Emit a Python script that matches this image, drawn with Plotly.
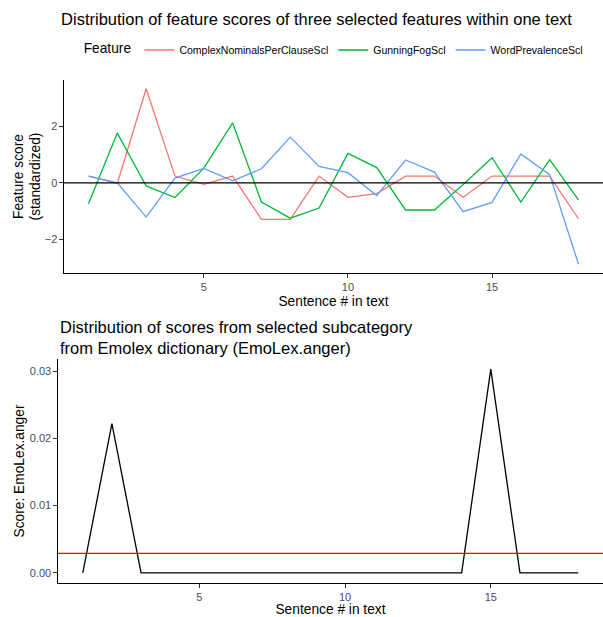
import plotly.graph_objects as go
import numpy as np

sentences = list(range(1, 19))

complex_nominals = [0.24, -0.02, 3.33, 0.24, -0.05, 0.24, -1.29, -1.29, 0.24, -0.51,
                    -0.38, 0.24, 0.24, -0.51, 0.24, 0.24, 0.24, -1.27]
gunning_fog = [-0.74, 1.76, -0.11, -0.52, 0.52, 2.12, -0.68, -1.25, -0.89, 1.04,
               0.54, -0.96, -0.96, -0.06, 0.89, -0.68, 0.82, -0.60]
word_prevalence = [0.24, 0.0, -1.21, 0.17, 0.51, 0.07, 0.50, 1.62, 0.58, 0.36,
                   -0.45, 0.81, 0.38, -1.02, -0.69, 1.02, 0.29, -2.88]

series_names = ["ComplexNominalsPerClauseScl", "GunningFogScl", "WordPrevalenceScl"]
series_values = [complex_nominals, gunning_fog, word_prevalence]
series_colors = ["#F8766D", "#00BA38", "#619CFF"]

emolex_anger = [0, 0.0222, 0, 0, 0, 0, 0, 0, 0, 0, 0, 0, 0, 0, 0.0303, 0, 0, 0]
anger_mean = float(np.mean(emolex_anger))

W, H = 603, 617
FONT = "Liberation Sans, Arial, sans-serif"

fig = go.Figure()
for name, vals, col in zip(series_names, series_values, series_colors):
    fig.add_trace(go.Scatter(x=sentences, y=vals, mode="lines", name=name,
                             line=dict(color=col, width=1.3), xaxis="x", yaxis="y"))

fig.add_trace(go.Scatter(x=sentences, y=emolex_anger, mode="lines", showlegend=False,
                         line=dict(color="black", width=1.3), xaxis="x2", yaxis="y2"))

# reference lines
fig.add_shape(type="line", xref="x domain", yref="y", x0=0, x1=1, y0=0, y1=0,
              line=dict(color="black", width=1.3), layer="above")
fig.add_shape(type="line", xref="x2 domain", yref="y2", x0=0, x1=1, y0=anger_mean, y1=anger_mean,
              line=dict(color="#FF0000", width=1.3), layer="above")

axis_common = dict(showline=True, linecolor="black", linewidth=1.1, mirror=False,
                   showgrid=False, zeroline=False, ticks="outside", ticklen=3.5,
                   tickwidth=1.1, tickcolor="#333333",
                   tickfont=dict(size=11, color="#4D4D4D", family=FONT))

fig.update_layout(
    width=W, height=H,
    margin=dict(l=0, r=0, t=0, b=0),
    paper_bgcolor="white", plot_bgcolor="white",
    font=dict(family=FONT, color="black"),
    title=dict(text="Distribution of feature scores of three selected features within one text",
               x=316.5 / W, xanchor="center", y=1 - 19 / H, yanchor="middle",
               font=dict(size=16.5, color="black", family=FONT)),
    xaxis=dict(domain=[64 / W, 1], range=[0.15, 18.85], tickvals=[5, 10, 15],
               title=dict(text="Sentence # in text", font=dict(size=13.75), standoff=4),
               anchor="y", **axis_common),
    yaxis=dict(domain=[1 - 273 / H, 1 - 80 / H], range=[-3.19, 3.64], tickvals=[-2, 0, 2],
               title=dict(text="Feature score<br>(standardized)", font=dict(size=13.75), standoff=0),
               anchor="x", **axis_common),
    xaxis2=dict(domain=[58 / W, 1], range=[0.15, 18.85], tickvals=[5, 10, 15],
                title=dict(text="Sentence # in text", font=dict(size=13.75), standoff=4),
                anchor="y2", **axis_common),
    yaxis2=dict(domain=[1 - 583 / H, 1 - 359 / H], range=[-0.0015, 0.0318],
                tickvals=[0, 0.01, 0.02, 0.03], tickformat=".2f",
                title=dict(text="Score: EmoLex.anger", font=dict(size=13.75), standoff=2),
                anchor="x2", **axis_common),
    legend=dict(orientation="h", x=0.555, xanchor="center", y=1 - 50 / H, yanchor="middle",
                title=dict(text="Feature", side="left", font=dict(size=13.75)),
                font=dict(size=10.5, color="black"), bgcolor="rgba(0,0,0,0)"),
)

fig.add_annotation(text="Distribution of scores from selected subcategory<br>from Emolex dictionary (EmoLex.anger)",
                   xref="paper", yref="paper", x=58 / W, y=1 - 337.5 / H,
                   xanchor="left", yanchor="middle", align="left", showarrow=False,
                   font=dict(size=16.5, color="black", family=FONT))

fig.write_html("out.html", config={"displayModeBar": False},
               post_script="document.body.style.margin='0';document.body.style.padding='0';")
